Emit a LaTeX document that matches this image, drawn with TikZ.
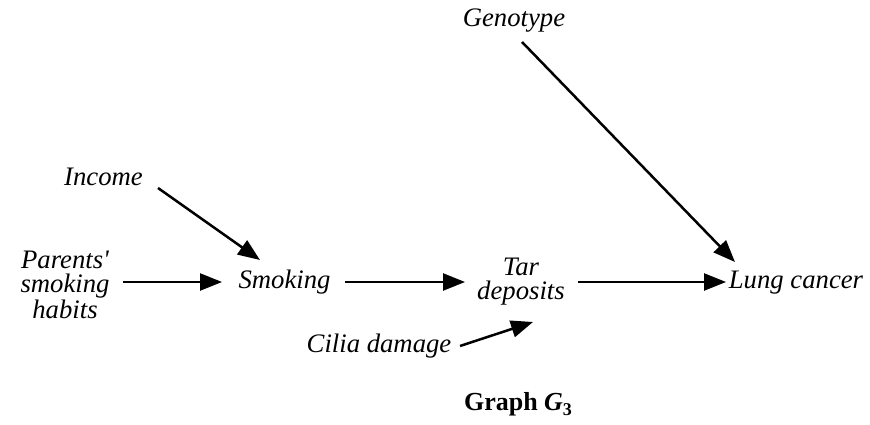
\documentclass[tikz,border=0pt]{standalone}
\usepackage{fontspec}
\setmainfont{Liberation Serif}
\usetikzlibrary{arrows.meta}
\begin{document}
\begin{tikzpicture}[x=1pt,y=-1pt,
  lbl/.style={font=\itshape\fontsize{26.7}{24}\selectfont, inner sep=0pt, anchor=base, align=center},
  arr/.style={line width=2.5pt, -{Triangle[length=22pt,width=17pt]}}]
\useasboundingbox (0,0) rectangle (870,425);
\node[lbl] (gen) at (514,27) {Genotype};
\node[lbl] (inc) at (103.5,185) {Income};
\node[lbl] (par) at (65,318) {Parents\textquotesingle\\smoking\\habits};
\node[lbl] (smk) at (284.5,288) {Smoking};
\node[lbl] (tar) at (521,299) {Tar\\deposits};
\node[lbl] (cil) at (379,352) {Cilia damage};
\node[lbl] (lng) at (796,288) {Lung cancer};
\node[inner sep=0pt, anchor=base, font=\bfseries\fontsize{26}{30}\selectfont] (cap) at (518,410) {Graph \textit{G}\raisebox{-0.22em}{\fontsize{18}{18}\selectfont 3}};
\draw[arr] ([shift={(58,-36)}]par.base) -- ([shift={(-62.5,-6)}]smk.base);
\draw[arr] ([shift={(54.5,3)}]inc.base) -- ([shift={(-24.5,-28)}]smk.base);
\draw[arr] ([shift={(60.5,-6)}]smk.base) -- ([shift={(-56,-17)}]tar.base);
\draw[arr] ([shift={(81,-6)}]cil.base) -- ([shift={(12,23)}]tar.base);
\draw[arr] ([shift={(57,-17)}]tar.base) -- ([shift={(-70,-6)}]lng.base);
\draw[arr] ([shift={(8,15)}]gen.base) -- ([shift={(-61,-26)}]lng.base);
\end{tikzpicture}
\end{document}
